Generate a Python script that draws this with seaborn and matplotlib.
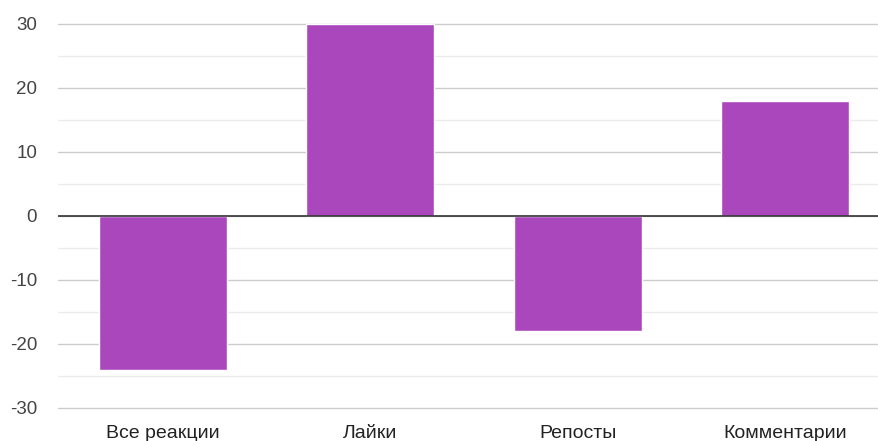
import matplotlib
matplotlib.use("Agg")
import matplotlib.pyplot as plt
import seaborn as sns
import pandas as pd
from matplotlib.ticker import FixedLocator

categories = ["Все реакции", "Лайки", "Репосты", "Комментарии"]
values = [-24, 30, -18, 18]
y_ticks = [-30, -20, -10, 0, 10, 20, 30]
y_minor = [-25, -15, -5, 5, 15, 25]

sns.set_theme(style="white")
plt.rcParams["font.family"] = ["Liberation Sans", "DejaVu Sans"]
plt.rcParams["axes.unicode_minus"] = False

df = pd.DataFrame({"category": categories, "value": values})

fig = plt.figure(figsize=(8.79, 4.41), dpi=100)
ax = fig.add_axes([58 / 879, 33 / 441, (890 - 58) / 879, (417 - 33) / 441])

sns.barplot(data=df, x="category", y="value", color="#AB47BC", saturation=1,
            width=0.615, ax=ax, zorder=3)

ax.set_xlim(-0.505, 3.505)
ax.set_ylim(-30, 30)
ax.set_yticks(y_ticks)
ax.yaxis.set_minor_locator(FixedLocator(y_minor))
ax.grid(axis="y", which="major", color="#cccccc", linewidth=1.0, zorder=0)
ax.grid(axis="y", which="minor", color="#ebebeb", linewidth=1.0, zorder=0)
for gl in ax.get_ygridlines():
    gl.set_clip_on(False)
ax.axhline(0, color="#333333", linewidth=1.2, zorder=4)

for s in ax.spines.values():
    s.set_visible(False)
ax.tick_params(axis="both", which="both", length=0)
ax.tick_params(axis="y", pad=15, labelsize=13.5, labelcolor="#444444")
ax.tick_params(axis="x", pad=12.5, labelsize=14, labelcolor="#222222")
ax.set_xlabel("")
ax.set_ylabel("")

fig.savefig("out.png", dpi=100)
